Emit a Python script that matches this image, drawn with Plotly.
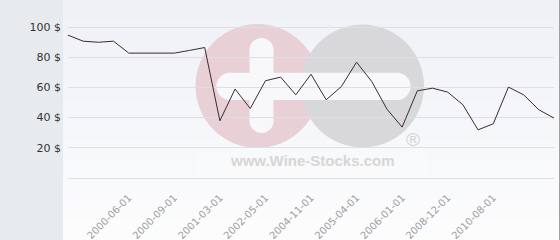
import plotly.graph_objects as go

# ---- data ----
prices = [94.6, 90.6, 89.9, 90.6, 82.7, 82.7, 82.7, 82.7, 84.5, 86.4,
          37.9, 58.9, 46.0, 64.4, 66.8, 55.1, 68.7, 51.8, 60.6, 76.7,
          63.9, 45.6, 33.7, 57.7, 59.5, 56.9, 48.5, 31.9, 35.9, 60.2,
          55.1, 45.2, 39.7]
positions = list(range(len(prices)))
tick_positions = [4, 7, 10, 13, 16, 19, 22, 25, 28]
tick_labels = ["2000-06-01", "2000-09-01", "2001-03-01", "2002-05-01",
               "2004-11-01", "2005-04-01", "2006-01-01", "2008-12-01",
               "2010-08-01"]
y_ticks = [20, 40, 60, 80, 100]
y_tick_labels = ["20 $", "40 $", "60 $", "80 $", "100 $"]

W, H = 560, 240
L, R, T, B = 68, 6, 0, 62
PW, PH = W - L - R, H - T - B

def px_x(x):
    return (x - L) / PW

def px_y(y):
    return (H - B - y) / PH

fig = go.Figure()
fig.add_trace(go.Scatter(x=positions, y=prices, mode="lines",
                         line=dict(color="#3b2a31", width=1),
                         hoverinfo="skip", showlegend=False))

shapes = []
# background gradient on the right region
n = 24
top = (239, 241, 246)
bot = (252, 252, 253)
for i in range(n):
    f = i / (n - 1)
    c = tuple(round(top[k] + (bot[k] - top[k]) * f) for k in range(3))
    y0 = H * i / n
    y1 = H * (i + 1) / n + 0.5
    shapes.append(dict(type="rect", xref="paper", yref="paper",
                       x0=px_x(63), x1=px_x(560), y0=px_y(y1), y1=px_y(y0),
                       fillcolor="rgb(%d,%d,%d)" % c, line=dict(width=0), layer="below"))
# left grey panel
shapes.append(dict(type="rect", xref="paper", yref="paper",
                   x0=px_x(0), x1=px_x(63), y0=px_y(240), y1=px_y(0),
                   fillcolor="#e7ebee", line=dict(width=0), layer="below"))
# right border
shapes.append(dict(type="line", xref="paper", yref="paper",
                   x0=px_x(559.5), x1=px_x(559.5), y0=px_y(240), y1=px_y(0),
                   line=dict(color="#a0a0a0", width=1)))

# watermark
def circ(cx, cy, r, color):
    return dict(type="circle", xref="paper", yref="paper",
                x0=px_x(cx - r), x1=px_x(cx + r), y0=px_y(cy + r), y1=px_y(cy - r),
                fillcolor=color, line=dict(width=0), layer="below")

def rect(x0, y0, x1, y1, color, opacity=1):
    return dict(type="rect", xref="paper", yref="paper",
                x0=px_x(x0), x1=px_x(x1), y0=px_y(y1), y1=px_y(y0),
                fillcolor=color, line=dict(width=0), layer="below", opacity=opacity)

shapes.append(rect(195, 146, 427, 178, "#ffffff", 0.2))
shapes.append(circ(257.5, 86, 62, "#e9cfd6"))
shapes.append(circ(362.5, 86, 61.5, "#d8d8db"))
# plus vertical bar
shapes.append(rect(249.5, 50, 273.5, 121, "#f8f8fa"))
shapes.append(circ(261.5, 50, 12, "#f8f8fa"))
shapes.append(circ(261.5, 121, 12, "#f8f8fa"))
# horizontal bar
shapes.append(rect(230, 72.7, 397, 100, "#f8f8fa"))
shapes.append(circ(230, 86.35, 13.65, "#f8f8fa"))
shapes.append(circ(397, 86.35, 13.65, "#f8f8fa"))

fig.update_layout(shapes=shapes)

fig.add_annotation(xref="paper", yref="paper", x=px_x(312), y=px_y(160.5),
                   text="<b>www.Wine-Stocks.com</b>", showarrow=False,
                   font=dict(family="Liberation Sans", size=15, color="#d6d6d8"),
                   xanchor="center", yanchor="middle")
fig.add_annotation(xref="paper", yref="paper", x=px_x(412.7), y=px_y(139),
                   text="®", showarrow=False,
                   font=dict(family="Liberation Sans", size=19, color="#d3d3d6"),
                   xanchor="center", yanchor="middle")

fig.update_layout(
    width=W, height=H,
    margin=dict(l=L, r=R, t=T, b=B, pad=0, autoexpand=False),
    paper_bgcolor="#ffffff",
    plot_bgcolor="rgba(0,0,0,0)",
    xaxis=dict(range=[0, len(prices) - 1], tickmode="array",
               tickvals=tick_positions, ticktext=tick_labels,
               tickangle=-45, showgrid=False, zeroline=False, showline=False,
               ticks="", ticklabelstandoff=11, automargin=False,
               tickfont=dict(family="DejaVu Sans", size=10, color="#9d9d9d"),
               fixedrange=True),
    yaxis=dict(range=[0, 178 / 1.51], tickmode="array", tickvals=y_ticks,
               ticktext=y_tick_labels, automargin=False,
               showgrid=True, gridcolor="#dedfe2", gridwidth=1,
               zeroline=True, zerolinecolor="#dedfe2", zerolinewidth=1,
               showline=False, ticks="", ticklabelstandoff=6,
               tickfont=dict(family="DejaVu Sans", size=11, color="#333333"),
               fixedrange=True),
    showlegend=False,
)

fig.write_html("out.html")
